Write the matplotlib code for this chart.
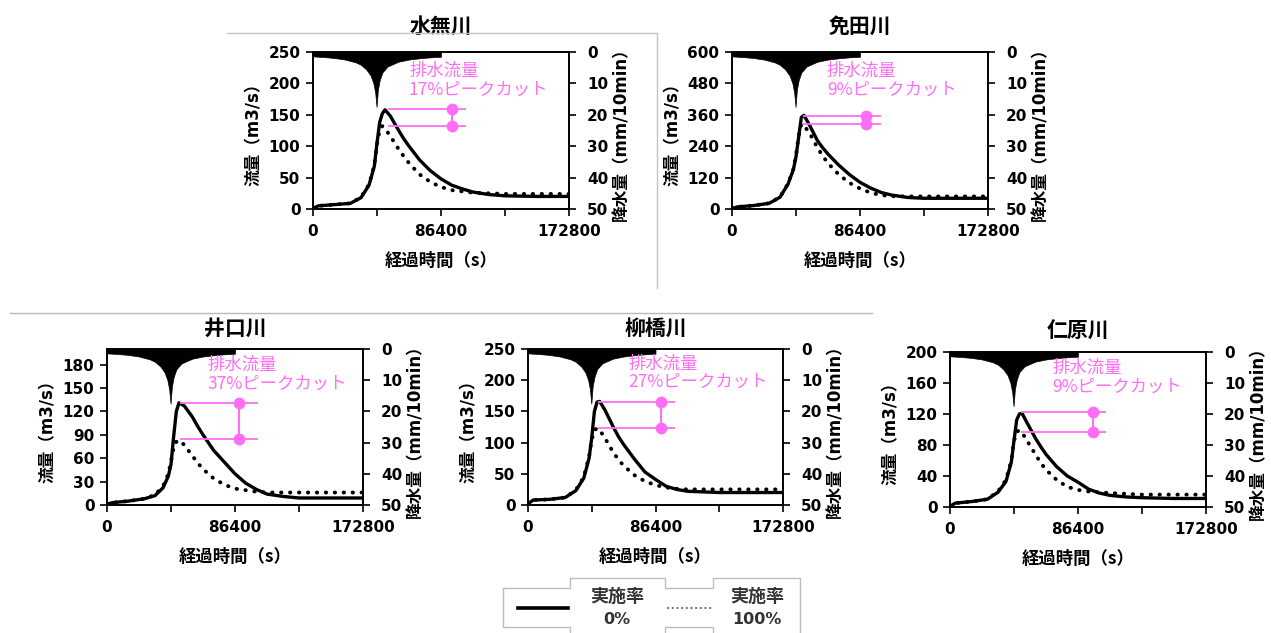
import matplotlib
matplotlib.use("Agg")
import matplotlib.pyplot as plt
from matplotlib.lines import Line2D
import numpy as np

plt.rcParams['font.family'] = ['DejaVu Sans', 'Noto Sans CJK JP']

# ---------------- data ----------------
rivers = ['水無川', '免田川', '井口川', '柳橋川', '仁原川']
y_max = [250, 600, 200, 250, 200]
y_step = [50, 120, 30, 50, 40]
y_tick_max = [250, 600, 180, 250, 200]
cut_labels = ['17%', '9%', '37%', '27%', '9%']

# common time grid (s)
t_grid = [0, 3600, 14400, 25200, 32400, 37800, 41400, 43200, 45000, 46800, 48600,
          52200, 57600, 61200, 64800, 72000, 79200, 86400, 93600, 100800, 108000,
          118800, 129600, 151200, 172800]

# 実施率 0% (solid) and 100% (dotted) discharge, m3/s
q_minase_0 = [1, 5, 7, 9, 18, 38, 68, 105, 138, 152, 158, 148, 126, 112, 100, 78, 61, 48, 38, 32, 27, 23, 21, 20, 20]
q_minase_100 = [1, 5, 7, 9, 19, 39, 70, 103, 126, 132, 128, 116, 96, 84, 73, 55, 43, 35, 30, 28, 26, 25, 24, 24, 24]
q_menda_0 = [2, 8, 13, 22, 45, 95, 150, 200, 275, 350, 358, 322, 262, 234, 210, 168, 132, 102, 80, 63, 53, 44, 41, 41, 41]
q_menda_100 = [2, 8, 13, 22, 46, 97, 152, 205, 280, 325, 318, 292, 235, 203, 175, 132, 100, 78, 62, 53, 49, 48, 48, 48, 48]
q_iguchi_0 = [1, 3, 5, 8, 12, 22, 37, 52, 88, 120, 131, 127, 113, 101, 90, 70, 55, 40, 28, 20, 14, 11, 9, 9, 9]
q_iguchi_100 = [1, 3, 5, 8, 13, 24, 40, 56, 74, 81, 83, 77, 63, 54, 46, 34, 26, 21, 19, 17, 16, 16, 16, 16, 16]
q_yanagi_0 = [2, 8, 9, 12, 23, 43, 75, 108, 150, 165, 166, 152, 126, 110, 97, 74, 53, 41, 30, 25, 22, 21, 20, 20, 20]
q_yanagi_100 = [2, 8, 9, 12, 24, 45, 78, 105, 120, 123, 120, 107, 85, 73, 63, 48, 38, 32, 28, 26, 25, 25, 25, 25, 25]
q_nihara_0 = [1, 5, 7, 10, 19, 33, 58, 86, 112, 120, 121, 108, 89, 78, 68, 52, 40, 32, 23, 18, 15, 13, 12, 11, 11]
q_nihara_100 = [1, 5, 7, 10, 20, 35, 60, 85, 97, 99, 96, 85, 68, 57, 48, 35, 26, 22, 20, 19, 18, 17, 16, 16, 16]
q_solid = [q_minase_0, q_menda_0, q_iguchi_0, q_yanagi_0, q_nihara_0]
q_dotted = [q_minase_100, q_menda_100, q_iguchi_100, q_yanagi_100, q_nihara_100]

# rainfall hyetograph envelope (mm/10min)
t_rain = [0, 7200, 14400, 21600, 28800, 32400, 36000, 38880, 40800, 42000, 42900,
          43800, 45000, 46800, 50400, 57600, 64800, 72000, 79200, 86400]
rain = [1.4, 1.6, 1.9, 2.4, 3.3, 4.1, 5.6, 7.5, 10, 13, 17.5,
        12, 9, 6.5, 4.6, 3.1, 2.4, 2.0, 1.7, 1.5]

# peak-cut markers
peak_hi = [160, 357, 131, 165, 123]
peak_lo = [132, 325, 84, 124, 97]
mark_t0 = [50600, 47900, 49300, 47250, 47900]
mark_t1 = [103300, 100600, 101900, 99900, 105300]
mark_tdot = [93800, 90500, 89100, 89800, 96500]
text_t = [64800, 64100, 67500, 68200, 68900]
text_yfrac = [0.935, 0.935, 0.955, 0.965, 0.955]
title_pad = [14, 14, 10, 10, 10]

# axes placement in pixels (left, top, right, bottom)
W, H = 1271, 633
boxes = [(313, 52, 569, 209), (732, 52, 988, 209),
         (107, 349, 363, 505), (528, 349, 783, 505), (950, 352, 1206, 507)]

PINK = '#FF6EF5'
JP = ['Noto Sans CJK JP', 'DejaVu Sans']

fig = plt.figure(figsize=(W / 100, H / 100), dpi=100)

for i, name in enumerate(rivers):
    l, t, r, b = boxes[i]
    ax = fig.add_axes([l / W, 1 - b / H, (r - l) / W, (b - t) / H])
    ax2 = ax.twinx()

    # rainfall
    ax2.fill_between(t_rain, 0, rain, color='black', linewidth=0.5)
    ax2.set_ylim(50, 0)
    ax2.set_yticks(range(0, 51, 10))
    ax2.tick_params(axis='y', direction='out', length=5, width=1.2, pad=8,
                    labelsize=11)
    for lab in ax2.get_yticklabels():
        lab.set_fontweight('bold')
    ax2.set_ylabel('降水量（mm/10min）', fontsize=12, fontweight='bold', labelpad=3)

    # discharge
    ax.plot(t_grid, q_solid[i], color='black', lw=2.4, solid_joinstyle='round')
    ax.plot(t_grid, q_dotted[i], color='black', lw=2.8,
            linestyle=(0, (0.1, 2.2)), dash_capstyle='round')
    ax.set_xlim(0, 172800)
    ax.set_ylim(0, y_max[i])
    ax.set_yticks(np.arange(0, y_tick_max[i] + 1, y_step[i]))
    ax.set_xticks([0, 43200, 86400, 129600, 172800])
    ax.set_xticklabels(['0', '', '86400', '', '172800'])
    ax.tick_params(axis='both', direction='out', length=5, width=1.2, labelsize=11)
    ax.tick_params(axis='x', pad=6)
    ax.tick_params(axis='y', pad=4)
    for lab in ax.get_xticklabels() + ax.get_yticklabels():
        lab.set_fontweight('bold')
    ax.set_ylabel('流量（m3/s）', fontsize=12, fontweight='bold', labelpad=4)
    ax.set_xlabel('経過時間（s）', fontsize=12.5, fontweight='bold', labelpad=9,
                  family=JP)
    ax.set_title(name, fontsize=15, fontweight='bold', pad=title_pad[i], family=JP)
    for sp in list(ax.spines.values()) + list(ax2.spines.values()):
        sp.set_linewidth(1.2)

    # peak-cut annotation
    ax.hlines([peak_hi[i], peak_lo[i]], mark_t0[i], mark_t1[i], color=PINK, lw=1.3, zorder=5)
    ax.plot([mark_tdot[i], mark_tdot[i]], [peak_hi[i], peak_lo[i]], color=PINK, lw=1.5,
            marker='o', markersize=7.5, zorder=6)
    ax.text(text_t[i], text_yfrac[i], '排水流量\n' + cut_labels[i] + 'ピークカット',
            transform=ax.get_xaxis_transform(), color=PINK, fontsize=12.5,
            va='top', ha='left', linespacing=1.05, zorder=7, family=JP)
    ax.set_zorder(ax2.get_zorder() + 1)
    ax.patch.set_visible(False)


def fig_line(xs, ys, color='#c4c4c4', lw=1.0):
    fig.add_artist(Line2D([x / W for x in xs], [1 - y / H for y in ys],
                          color=color, lw=lw))


# faint screenshot frame lines
fig_line([227, 657], [33, 33])
fig_line([657, 657], [33, 288])
fig_line([10, 872], [313, 313], color='#b8b8b8')

# legend
fig_line([503, 570, 570, 665, 665, 713, 713, 800, 800],
         [588, 588, 578, 578, 588, 588, 578, 578, 633], color='#bdbdbd')
fig_line([503, 503, 570, 570], [588, 627, 627, 633], color='#bdbdbd')
fig_line([665, 665, 713, 713], [633, 627, 627, 633], color='#bdbdbd')
fig.add_artist(Line2D([518 / W, 568 / W], [1 - 608 / H, 1 - 608 / H], color='black', lw=2.6))
fig.add_artist(Line2D([668 / W, 711 / W], [1 - 608 / H, 1 - 608 / H], color='#777777',
                      lw=1.6, linestyle=(0, (0.1, 2.0)), dash_capstyle='round'))
for cx, pct in [(617, '0%'), (757, '100%')]:
    fig.text(cx / W, 1 - 596 / H, '実施率', ha='center', va='center',
             fontsize=13, fontweight='bold', color='#333333', family=JP)
    fig.text(cx / W, 1 - 620 / H, pct, ha='center', va='center',
             fontsize=11.5, fontweight='bold', color='#333333')

fig.savefig('out.png', dpi=100)
